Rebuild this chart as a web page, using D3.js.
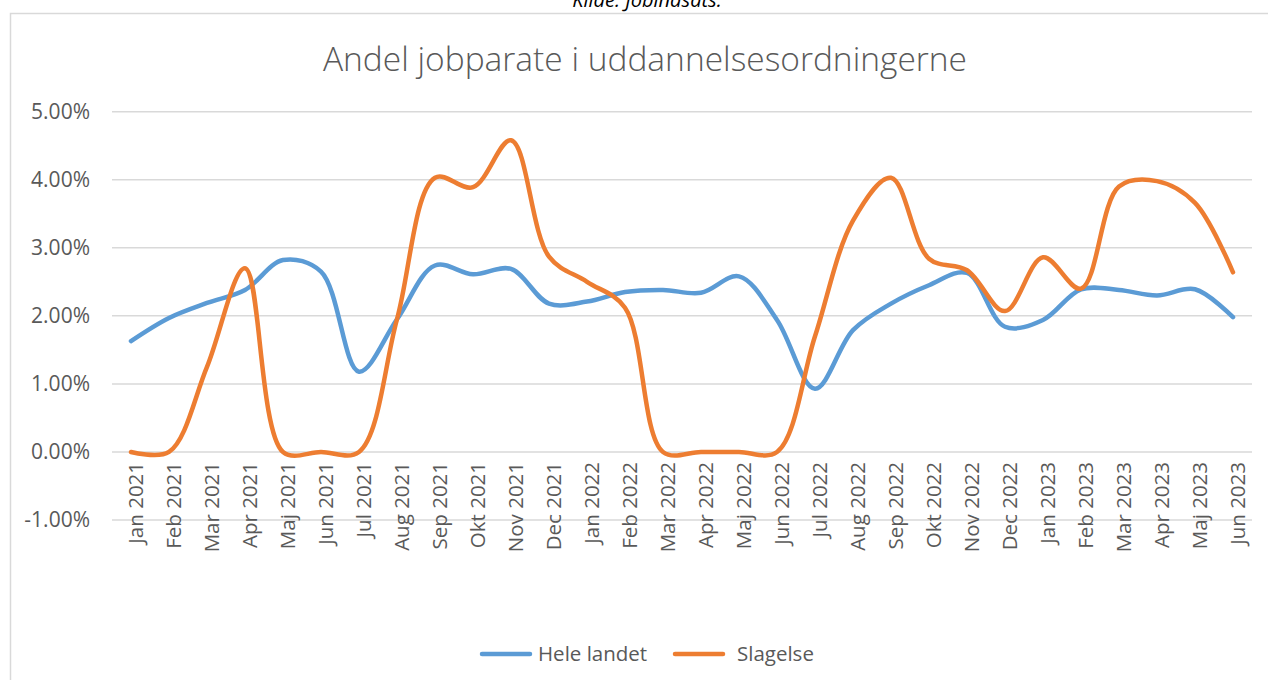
<!DOCTYPE html>
<html>
<head>
<meta charset="utf-8">
<script src="https://cdn.jsdelivr.net/npm/d3@7"></script>
<style>
  html, body { margin: 0; padding: 0; background: #fff; }
  svg { display: block; font-family: "Open Sans", sans-serif; }
</style>
</head>
<body>
<svg id="chart"></svg>
<script>
/* ---------- Daten ---------- */
const months = [
  "Jan 2021", "Feb 2021", "Mar 2021", "Apr 2021", "Maj 2021", "Jun 2021",
  "Jul 2021", "Aug 2021", "Sep 2021", "Okt 2021", "Nov 2021", "Dec 2021",
  "Jan 2022", "Feb 2022", "Mar 2022", "Apr 2022", "Maj 2022", "Jun 2022",
  "Jul 2022", "Aug 2022", "Sep 2022", "Okt 2022", "Nov 2022", "Dec 2022",
  "Jan 2023", "Feb 2023", "Mar 2023", "Apr 2023", "Maj 2023", "Jun 2023"
];

// andel i procent
const heleLandet = [
  1.63, 1.97, 2.19, 2.38, 2.82, 2.65, 1.18, 1.95, 2.74, 2.61,
  2.69, 2.18, 2.21, 2.35, 2.38, 2.34, 2.58, 1.94, 0.93, 1.79,
  2.18, 2.45, 2.63, 1.84, 1.94, 2.39, 2.38, 2.30, 2.39, 1.98
];

const slagelse = [
  0.00, 0.00, 1.25, 2.70, 0.00, 0.00, 0.00, 1.95, 4.03, 3.89,
  4.58, 2.87, 2.50, 2.12, 0.00, 0.00, 0.00, 0.00, 1.70, 3.40,
  4.03, 2.84, 2.67, 2.07, 2.86, 2.40, 3.90, 3.98, 3.66, 2.64
];

const yTicks = [-1, 0, 1, 2, 3, 4, 5];

const seriesNames  = ["Hele landet", "Slagelse"];
const seriesColors = ["#5B9BD5", "#ED7D31"];

/* ---------- Grund-Setup ---------- */
const width = 1268, height = 680;
const plot = { left: 112, right: 1252, top: 111.7, bottom: 520 };
const textColor = "#595959";

const svg = d3.select("#chart").attr("width", width).attr("height", height);

// Rahmen
svg.append("rect")
  .attr("x", 10.5).attr("y", 13.5)
  .attr("width", width).attr("height", height)
  .attr("fill", "#fff").attr("stroke", "#D9D9D9").attr("stroke-width", 1.5);

// Kilde (afskåret øverst, som i originalen)
svg.append("text")
  .attr("x", 647).attr("y", 7)
  .attr("text-anchor", "middle")
  .attr("font-style", "italic").attr("font-size", 20)
  .attr("fill", "#000")
  .text("Kilde: Jobindsats.");

// Titel
svg.append("text")
  .attr("x", 645).attr("y", 71)
  .attr("text-anchor", "middle")
  .attr("font-size", 33.5).attr("font-weight", 300)
  .attr("fill", textColor)
  .text("Andel jobparate i uddannelsesordningerne");

const x = d3.scaleBand().domain(months).range([plot.left, plot.right]);
const y = d3.scaleLinear().domain([-1, 5]).range([plot.bottom, plot.top]);
const cx = d => x(d) + x.bandwidth() / 2;

// Gitterlinjer
svg.append("g").selectAll("line").data(yTicks).join("line")
  .attr("x1", plot.left).attr("x2", plot.right)
  .attr("y1", d => y(d)).attr("y2", d => y(d))
  .attr("stroke", "#D9D9D9").attr("stroke-width", 1.5);

// y-akse (almindelig bindestreg som i Excel)
const pct = d3.formatLocale({ decimal: ".", thousands: ",", grouping: [3], currency: ["", ""], minus: "-" }).format(".2f");
svg.append("g").selectAll("text").data(yTicks).join("text")
  .attr("x", 90).attr("y", d => y(d))
  .attr("dy", "0.35em")
  .attr("text-anchor", "end")
  .attr("font-size", 21).attr("fill", textColor)
  .text(d => pct(d) + "%");

// x-akse (lodrette labels)
svg.append("g").selectAll("text").data(months).join("text")
  .attr("transform", d => `translate(${cx(d) + 5},${y(0) + 10}) rotate(-90)`)
  .attr("dy", "0.35em")
  .attr("text-anchor", "end")
  .attr("font-size", 20.5).attr("fill", textColor)
  .text(d => d);

// Linjer (udglattet som i Excel)
const line = d3.line()
  .x((d, i) => cx(months[i]))
  .y(d => y(d))
  .curve(d3.curveCatmullRom.alpha(0.5));

[heleLandet, slagelse].forEach((vals, k) => {
  svg.append("path")
    .datum(vals)
    .attr("fill", "none")
    .attr("stroke", seriesColors[k])
    .attr("stroke-width", 4.5)
    .attr("stroke-linecap", "round")
    .attr("stroke-linejoin", "round")
    .attr("d", line);
});

// Legende
const legendX = [482, 675];
const legend = svg.append("g").selectAll("g").data(seriesNames).join("g")
  .attr("transform", (d, i) => `translate(${legendX[i]},654)`);
legend.append("line")
  .attr("x1", 0).attr("x2", 48)
  .attr("stroke", (d, i) => seriesColors[i])
  .attr("stroke-width", 4.5).attr("stroke-linecap", "round");
legend.append("text")
  .attr("x", (d, i) => i === 0 ? 56 : 62).attr("dy", "0.35em")
  .attr("font-size", 20.5).attr("fill", textColor)
  .text(d => d);
</script>
</body>
</html>
